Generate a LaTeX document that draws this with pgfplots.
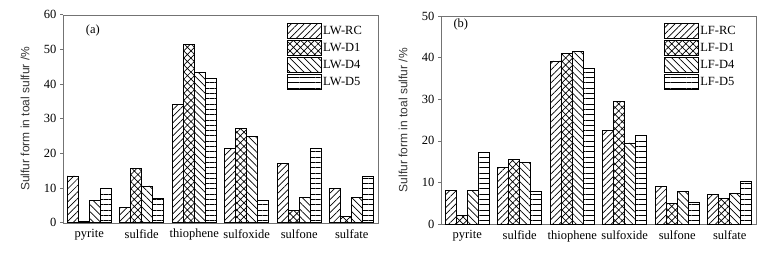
\documentclass[border=0pt]{standalone}
\usepackage{fontspec}
\setmainfont{Liberation Serif}
\newfontfamily\labelfont{Liberation Sans}
\usepackage{pgfplots}
\pgfplotsset{compat=1.18}
\usetikzlibrary{patterns.meta}

\pgfplotsset{
  mybars/.style={
    ybar=0pt, bar width=11pt,
    scale only axis, width=315pt, height=208pt,
    xmin=-0.5, xmax=5.5, ymin=0,
    xtick={0,...,5},
    xticklabels={pyrite,sulfide,thiophene,sulfoxide,sulfone,sulfate},
    x tick style={draw=none},
    ytick pos=left, tick align=outside, major tick length=3pt,
    /pgf/number format/assume math mode=true,
    tick label style={font=\fontsize{12.5}{14}\selectfont},
    axis line style={draw=black!55},
    y tick style={black!55, line width=0.6pt},
    ylabel={Sulfur form in toal sulfur /\%},
    ylabel style={font=\labelfont\fontsize{12}{14}\selectfont, text=black!80, at={(axis description cs:-0.1206,0.5)}, anchor=center},
    legend cell align=left,
    legend style={draw=none, fill=none, inner sep=0pt, outer sep=0pt, row sep=1.2pt,
      font=\fontsize{12.5}{14}\selectfont,
      nodes={inner xsep=1.5pt, inner ysep=0pt},
      /tikz/every even column/.append style={column sep=0pt}},
    legend image code/.code={\draw[#1] (0pt,-7.5pt) rectangle (34pt,7.5pt);},
    title style={font=\fontsize{12.5}{14}\selectfont, anchor=center},
  },
  rc/.style={draw=black, line width=0.75pt, pattern={Lines[angle=45,distance=4.6pt,line width=0.7pt]}},
  done/.style={draw=black, line width=0.75pt, pattern={Hatch[angle=45,distance=5pt,line width=0.7pt]}},
  dfour/.style={draw=black, line width=0.75pt, pattern={Lines[angle=-45,distance=5pt,line width=0.7pt]}},
  dfive/.style={draw=black, line width=0.75pt, pattern={Lines[angle=0,distance=5.3pt,line width=0.7pt]}},
}

\begin{document}
\begin{tikzpicture}
\useasboundingbox (0,0) rectangle (781pt,263pt);
\begin{axis}[mybars, at={(63pt,40.3pt)}, anchor=south west, ymax=60, ytick={0,10,...,60},
  title={(a)}, title style={at={(axis description cs:0.095,0.894)}},
  legend style={at={(0.711,0.960)}, anchor=north west}]
\addplot[rc] coordinates {(0,13.5) (1,4.4) (2,34.0) (3,21.3) (4,17.2) (5,9.8)};
\addplot[done] coordinates {(0,0.4) (1,15.7) (2,51.5) (3,27.1) (4,3.5) (5,1.7)};
\addplot[dfour] coordinates {(0,6.5) (1,10.6) (2,43.3) (3,24.9) (4,7.3) (5,7.3)};
\addplot[dfive] coordinates {(0,9.9) (1,7.1) (2,41.6) (3,6.5) (4,21.5) (5,13.5)};
\legend{LW-RC,LW-D1,LW-D4,LW-D5}
\end{axis}
\begin{axis}[mybars, at={(441pt,39pt)}, anchor=south west, ymax=50, ytick={0,10,...,50},
  title={(b)}, title style={at={(axis description cs:0.063,0.929)}},
  legend style={at={(0.708,0.965)}, anchor=north west}]
\addplot[rc] coordinates {(0,8.1) (1,13.5) (2,39.2) (3,22.4) (4,9.0) (5,7.2)};
\addplot[done] coordinates {(0,2.0) (1,15.5) (2,41.0) (3,29.4) (4,5.0) (5,6.2)};
\addplot[dfour] coordinates {(0,8.1) (1,14.8) (2,41.5) (3,19.5) (4,7.8) (5,7.4)};
\addplot[dfive] coordinates {(0,17.1) (1,7.8) (2,37.3) (3,21.4) (4,5.3) (5,10.3)};
\legend{LF-RC,LF-D1,LF-D4,LF-D5}
\end{axis}
\end{tikzpicture}
\end{document}
